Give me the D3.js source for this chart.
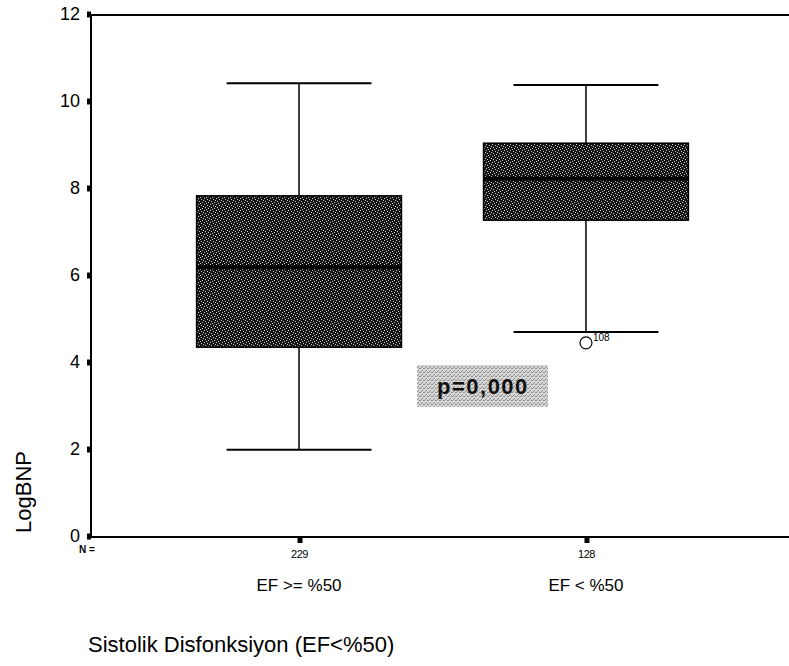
<!DOCTYPE html>
<html>
<head>
<meta charset="utf-8">
<script src="https://cdn.jsdelivr.net/npm/d3@7"></script>
<style>
  html, body { margin: 0; padding: 0; background: #fff; }
  svg { display: block; font-family: "Liberation Sans", Arial, sans-serif; }
</style>
</head>
<body>
<svg id="chart" width="789" height="666"></svg>
<script>
// ---- data ----
const categories = ["EF >= %50", "EF < %50"];
const counts = ["229", "128"];
const whiskerMin = [1.98, 4.69];
const q1 = [4.34, 7.26];
const median = [6.18, 8.21];
const q3 = [7.82, 9.03];
const whiskerMax = [10.41, 10.37];
const outlierValues = [[], [4.44]];
const outlierLabels = [[], ["108"]];
const yTicks = [0, 2, 4, 6, 8, 10, 12];
const pText = "p=0,000";
const yTitle = "LogBNP";
const footTitle = "Sistolik Disfonksiyon (EF<%50)";

// ---- layout ----
const svg = d3.select("#chart");
const mLeft = 91, mRight = 789, mTop = 14, mBottom = 536;

const x = d3.scalePoint().domain(categories).range([mLeft, 794]).padding(0.725);
const step = x.step();
const boxW = step * 0.714;
const capW = step * 0.505;
const y = d3.scaleLinear().domain([0, 12]).range([mBottom, mTop]);

// dither pattern for boxes
const defs = svg.append("defs");
const pat = defs.append("pattern").attr("id", "dither").attr("patternUnits", "userSpaceOnUse")
  .attr("width", 6).attr("height", 6);
pat.append("rect").attr("width", 6).attr("height", 6).attr("fill", "#141414");
[[0,0],[3,1],[1,3],[4,4],[2,5],[5,2]].forEach(([a,b]) =>
  pat.append("rect").attr("x", a).attr("y", b).attr("width", 1).attr("height", 1).attr("fill", "#c8c8c8"));

const pat2 = defs.append("pattern").attr("id", "dither2").attr("patternUnits", "userSpaceOnUse")
  .attr("width", 4).attr("height", 4);
pat2.append("rect").attr("width", 4).attr("height", 4).attr("fill", "#d6d6d6");
[[0,0],[2,2],[3,0],[1,3]].forEach(([a,b]) =>
  pat2.append("rect").attr("x", a).attr("y", b).attr("width", 1).attr("height", 1).attr("fill", "#8a8a8a"));

// axes
const yAxis = d3.axisLeft(y).tickValues(yTicks).tickSize(0).tickPadding(11);
const gy = svg.append("g").attr("transform", `translate(${mLeft},0)`).call(yAxis);
gy.select(".domain").remove();
gy.selectAll("text").attr("font-size", 18).attr("fill", "#000");
gy.selectAll(".tick").append("rect").attr("x", -4).attr("y", -3).attr("width", 4).attr("height", 6).attr("fill", "#000");

svg.append("line").attr("x1", mLeft).attr("x2", mLeft).attr("y1", mTop).attr("y2", mBottom + 1)
  .attr("stroke", "#000").attr("stroke-width", 2);
svg.append("line").attr("x1", mLeft).attr("x2", mRight).attr("y1", mTop + 1).attr("y2", mTop + 1)
  .attr("stroke", "#000").attr("stroke-width", 2);
svg.append("line").attr("x1", mLeft).attr("x2", mRight).attr("y1", mBottom + 1).attr("y2", mBottom + 1)
  .attr("stroke", "#000").attr("stroke-width", 2);

const xAxis = d3.axisBottom(x).tickSize(0).tickPadding(12).tickFormat((d, i) => counts[i]);
const gx = svg.append("g").attr("transform", `translate(0,${mBottom + 2})`).call(xAxis);
gx.select(".domain").remove();
gx.selectAll("text").attr("font-size", 11).attr("fill", "#000").attr("letter-spacing", -0.5);
gx.selectAll(".tick").append("rect").attr("x", -2).attr("y", 0).attr("width", 5).attr("height", 5).attr("fill", "#000");

svg.append("text").attr("x", 79).attr("y", 553).attr("font-size", 10).attr("font-weight", "bold").text("N =");

// category labels
svg.selectAll(".cat").data(categories).join("text")
  .attr("x", d => x(d)).attr("y", 591).attr("text-anchor", "middle")
  .attr("font-size", 17).attr("fill", "#000").text(d => d);

// boxes
const g = svg.append("g");
categories.forEach((c, i) => {
  const cx = x(c);
  g.append("line").attr("x1", cx).attr("x2", cx).attr("y1", y(whiskerMax[i])).attr("y2", y(q3[i]))
    .attr("stroke", "#000").attr("stroke-width", 1.5);
  g.append("line").attr("x1", cx).attr("x2", cx).attr("y1", y(q1[i])).attr("y2", y(whiskerMin[i]))
    .attr("stroke", "#000").attr("stroke-width", 1.5);
  [whiskerMax[i], whiskerMin[i]].forEach(v =>
    g.append("line").attr("x1", cx - capW / 2).attr("x2", cx + capW / 2).attr("y1", y(v)).attr("y2", y(v))
      .attr("stroke", "#000").attr("stroke-width", 2));
  g.append("rect").attr("x", cx - boxW / 2).attr("y", y(q3[i])).attr("width", boxW)
    .attr("height", y(q1[i]) - y(q3[i])).attr("fill", "url(#dither)").attr("stroke", "#000").attr("stroke-width", 1.5);
  g.append("line").attr("x1", cx - boxW / 2).attr("x2", cx + boxW / 2).attr("y1", y(median[i])).attr("y2", y(median[i]))
    .attr("stroke", "#000").attr("stroke-width", 4);
  outlierValues[i].forEach((v, j) => {
    g.append("circle").attr("cx", cx).attr("cy", y(v)).attr("r", 6).attr("fill", "#fff").attr("stroke", "#000").attr("stroke-width", 1.2);
    g.append("text").attr("x", cx + 7).attr("y", y(v) - 2).attr("font-size", 10).attr("fill", "#000").text(outlierLabels[i][j]);
  });
});

// p value annotation
svg.append("rect").attr("x", 417).attr("y", 365).attr("width", 131).attr("height", 42).attr("fill", "url(#dither2)");
svg.append("text").attr("x", 437).attr("y", 394).attr("font-size", 22).attr("font-weight", "bold")
  .attr("letter-spacing", 1.5).attr("fill", "#111").text(pText);

// axis title
svg.append("text").attr("transform", "translate(31,492) rotate(-90)").attr("text-anchor", "middle")
  .attr("font-size", 22).attr("fill", "#000").text(yTitle);

// foot title
svg.append("text").attr("x", 88).attr("y", 652).attr("font-size", 22).attr("fill", "#000").text(footTitle);
</script>
</body>
</html>
